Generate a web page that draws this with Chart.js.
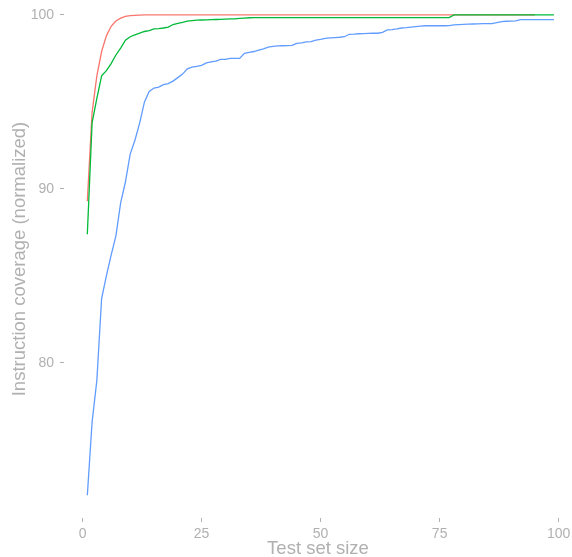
<!DOCTYPE html>
<html>
<head>
<meta charset="utf-8">
<script src="https://cdn.jsdelivr.net/npm/chart.js@4"></script>
<style>
  html, body { margin: 0; padding: 0; background: #fff; }
  #wrap { width: 572px; height: 557px; }
</style>
</head>
<body>
<div id="wrap"><canvas id="coverage"></canvas></div>
<script>
// test set sizes (x categories)
const testSizes = [
  1, 2, 3, 4, 5, 6, 7, 8, 9, 10, 11, 12, 13, 14, 15, 16, 17, 18, 19, 20,
  21, 22, 23, 24, 25, 26, 27, 28, 29, 30, 31, 32, 33, 34, 35, 36, 37, 38, 39, 40,
  41, 42, 43, 44, 45, 46, 47, 48, 49, 50, 51, 52, 53, 54, 55, 56, 57, 58, 59, 60,
  61, 62, 63, 64, 65, 66, 67, 68, 69, 70, 71, 72, 73, 74, 75, 76, 77, 78, 79, 80,
  81, 82, 83, 84, 85, 86, 87, 88, 89, 90, 91, 92, 93, 94, 95, 96, 97, 98, 99
];

// red series
const redCoverage = [
  89.3, 94.4, 96.5, 97.9, 98.8, 99.35, 99.65, 99.82, 99.92, 99.96, 99.98, 99.99,
  100, 100, 100, 100, 100, 100, 100, 100, 100, 100, 100, 100, 100, 100, 100, 100,
  100, 100, 100, 100, 100, 100, 100, 100, 100, 100, 100, 100, 100, 100, 100, 100,
  100, 100, 100, 100, 100, 100, 100, 100, 100, 100, 100, 100, 100, 100, 100, 100,
  100, 100, 100, 100, 100, 100, 100, 100, 100, 100, 100, 100, 100, 100, 100, 100,
  100, 100, 100, 100, 100, 100, 100, 100, 100, 100, 100, 100, 100, 100, 100, 100,
  100, 100, 100
];

// green series
const greenCoverage = [
  87.4, 93.8, 95.2, 96.5, 96.8, 97.2, 97.7, 98.1, 98.55, 98.75, 98.85, 98.95,
  99.05, 99.1, 99.2, 99.22, 99.25, 99.3, 99.45, 99.52, 99.58, 99.65, 99.68, 99.7,
  99.71, 99.72, 99.73, 99.74, 99.75, 99.76, 99.77, 99.78, 99.8, 99.82, 99.84,
  99.85, 99.85, 99.85, 99.85, 99.85, 99.85, 99.85, 99.85, 99.85, 99.85, 99.85,
  99.85, 99.85, 99.85, 99.85, 99.85, 99.85, 99.85, 99.85, 99.85, 99.85, 99.85,
  99.85, 99.85, 99.85, 99.85, 99.85, 99.85, 99.85, 99.85, 99.85, 99.85, 99.85,
  99.85, 99.85, 99.85, 99.85, 99.85, 99.85, 99.85, 99.85, 99.85,
  100, 100, 100, 100, 100, 100, 100, 100, 100, 100, 100, 100, 100, 100, 100, 100,
  100, 100, 100, 100, 100, 100
];

// blue series
const blueCoverage = [
  72.4, 76.6, 79.0, 83.7, 85.0, 86.2, 87.3, 89.2, 90.4, 92.0, 92.8, 93.8,
  95.0, 95.6, 95.8, 95.85, 96.0, 96.05, 96.2, 96.4, 96.6, 96.9, 97.0, 97.05,
  97.1, 97.25, 97.3, 97.35, 97.45, 97.45, 97.5, 97.5, 97.5, 97.8, 97.85, 97.9,
  97.98, 98.05, 98.15, 98.2, 98.22, 98.23, 98.24, 98.25, 98.37, 98.4, 98.45, 98.47,
  98.55, 98.6, 98.66, 98.68, 98.7, 98.72, 98.75, 98.89, 98.9, 98.92, 98.93, 98.94,
  98.95, 98.95, 99.0, 99.14, 99.16, 99.2, 99.25, 99.27, 99.3, 99.33, 99.36, 99.38,
  99.38, 99.38, 99.38, 99.38, 99.39, 99.43, 99.45, 99.46, 99.47, 99.48, 99.49, 99.5,
  99.5, 99.5, 99.56, 99.62, 99.64, 99.65, 99.66, 99.73, 99.73, 99.73, 99.73, 99.73,
  99.73, 99.73, 99.73
];

const xTicks = [0, 25, 50, 75, 100];
const yTicks = [80, 90, 100];

const textGray = '#b0b0b0';

function pts(values) {
  return values.map((v, i) => ({ x: testSizes[i], y: v }));
}

function line(values, color) {
  return {
    data: pts(values),
    borderColor: color,
    borderWidth: 1.3,
    pointRadius: 0,
    tension: 0,
    fill: false
  };
}

// no extra room for overhanging tick labels, the plot runs to the canvas edges
function noPad(s) {
  s.paddingTop = 0; s.paddingBottom = 0; s.paddingLeft = 0; s.paddingRight = 0;
}

new Chart(document.getElementById('coverage').getContext('2d'), {
  type: 'line',
  data: {
    // first dataset is drawn on top
    datasets: [
      line(blueCoverage, '#619CFF'),
      line(greenCoverage, '#00BA38'),
      line(redCoverage, '#F8766D')
    ]
  },
  options: {
    responsive: true,
    maintainAspectRatio: false,
    animation: false,
    layout: { padding: 0 },
    plugins: {
      legend: { display: false },
      tooltip: { enabled: false }
    },
    scales: {
      x: {
        type: 'linear',
        min: -3.9,
        max: 102.8,
        afterBuildTicks: s => { s.ticks = xTicks.map(v => ({ value: v })); },
        afterFit: s => { s.height = 39; noPad(s); },
        grid: { drawOnChartArea: false, drawTicks: true, tickLength: 4, tickColor: textGray },
        border: { display: false },
        ticks: { color: textGray, padding: 4, font: { family: 'Liberation Sans', size: 14 } },
        title: {
          display: true,
          text: 'Test set size',
          color: textGray,
          padding: 0,
          font: { family: 'Liberation Sans', size: 18.5, lineHeight: 0.9 }
        }
      },
      y: {
        type: 'linear',
        min: 71.09,
        max: 100.86,
        afterBuildTicks: s => { s.ticks = yTicks.map(v => ({ value: v })); },
        afterFit: s => { s.width = 64; noPad(s); },
        grid: { drawOnChartArea: false, drawTicks: true, tickLength: 4, tickColor: textGray },
        border: { display: false },
        ticks: { color: textGray, padding: 6, font: { family: 'Liberation Sans', size: 14 } },
        title: {
          display: true,
          text: 'Instruction coverage (normalized)',
          color: textGray,
          padding: { top: 9, bottom: 0 },
          font: { family: 'Liberation Sans', size: 18.5 }
        }
      }
    }
  }
});
</script>
</body>
</html>
